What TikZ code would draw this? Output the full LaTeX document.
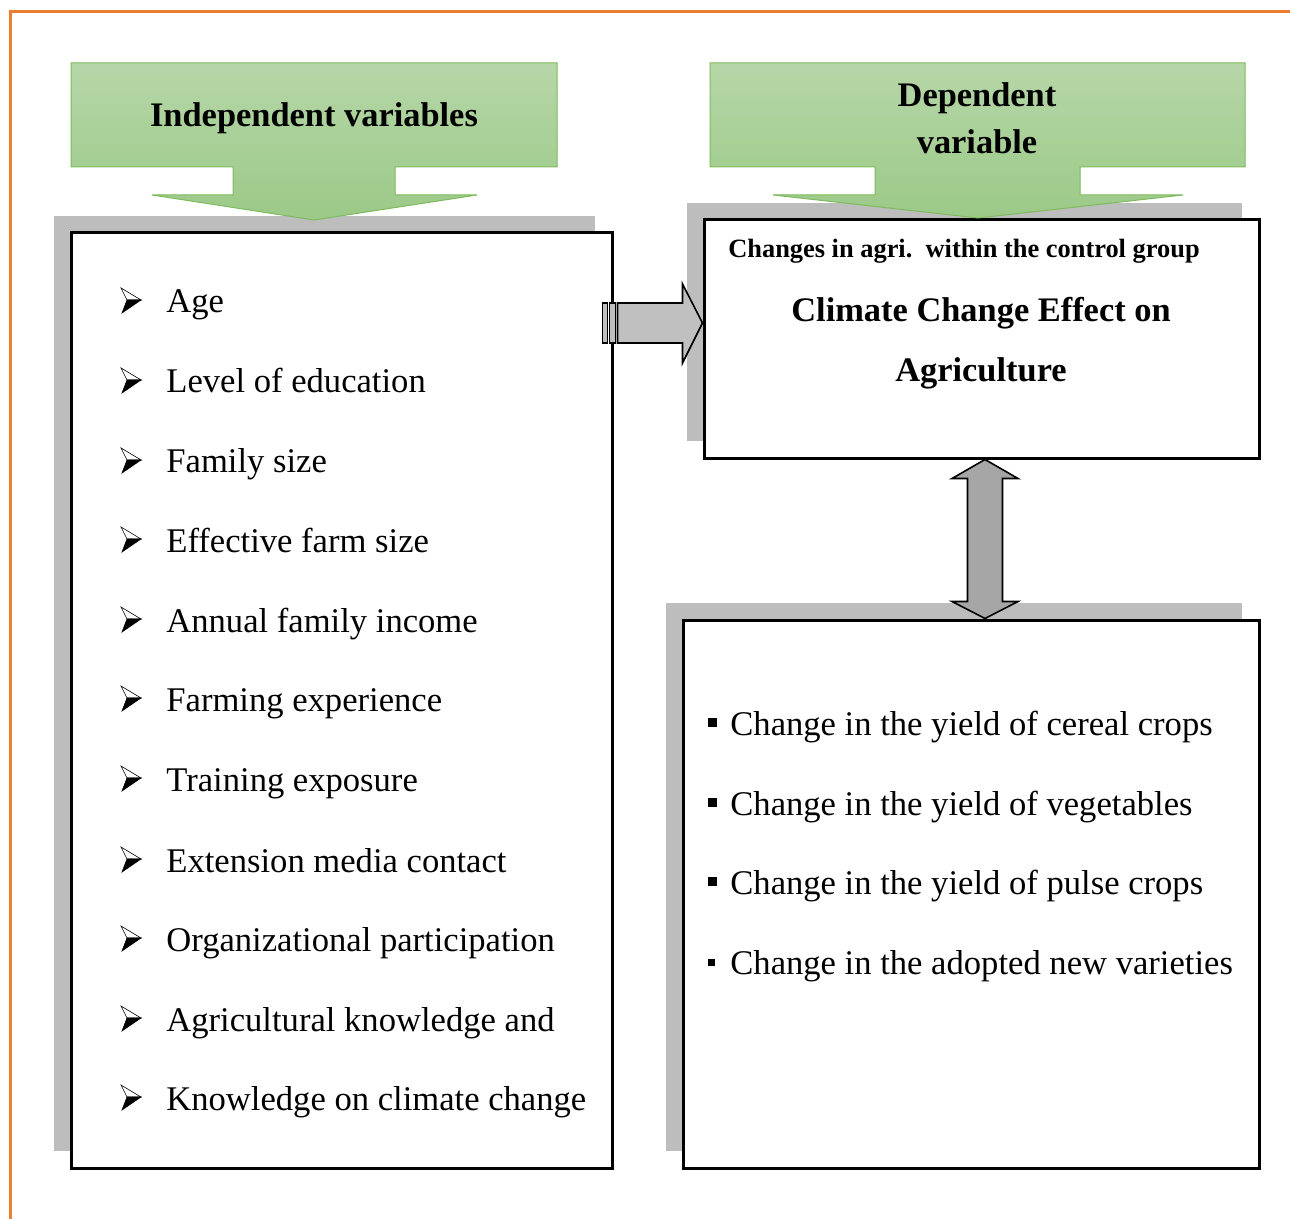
\documentclass[tikz,border=0pt]{standalone}
\usepackage{fontspec}
\setmainfont{Liberation Serif}
\usetikzlibrary{shadows}
\definecolor{frameorange}{HTML}{ED7D31}
\definecolor{callgreen}{HTML}{7DBB5C}
\definecolor{calltop}{HTML}{B6D7A8}
\definecolor{callbottom}{HTML}{9BC987}
\definecolor{arrowgray}{HTML}{C0C0C0}
\definecolor{darkgray}{HTML}{A6A6A6}
\tikzset{
    box/.style = {
        draw,
        shape=rectangle,
        fill=white,
        line width=1.5pt,
        general shadow={shadow xshift=-8.5pt, shadow yshift=8.5pt, fill=gray!52}
    },
    callout/.style = {
        draw=callgreen,
        line width=0.5pt,
        top color=calltop,
        bottom color=callbottom
    },
    blockarrow/.style = {
        draw,
        line width=0.8pt,
        line join=miter
    },
    head/.style = {
        font=\bfseries\fontsize{17.2}{23.5}\selectfont,
        align=center
    },
    item/.style = {
        anchor=base west,
        inner sep=0pt,
        font=\fontsize{17.3}{20}\selectfont
    },
    arrowhead/.pic = {
        \path[draw, line width=0.3pt, fill=white] (0,-25) -- (20,-13) -- (6,-13) -- cycle;
        \path[draw, line width=0.3pt, fill=black] (1,0) -- (20,-13) -- (6,-13) -- cycle;
    },
}
\newcommand{\sqbullet}[1][4.5pt]{\makebox[11pt][l]{\rule[4pt]{#1}{#1}}}

\begin{document}
\begin{tikzpicture}[x=0.5pt, y=-0.5pt]
            \useasboundingbox (0,0) rectangle (1290,1219);
            \path[draw, frameorange, line width=1.5pt] (1290,12) -| (10,1219);

            % the three boxes
            \node[box, minimum width=270.5pt, minimum height=467.5pt] (indbox) at (341.5,700.5) {};
            \node[box, minimum width=277.5pt, minimum height=119pt] (depbox) at (981.5,339) {};
            \node[box, minimum width=288pt, minimum height=274pt] (effbox) at (971,894) {};

            % green headers
            \path[callout] (71,63) -- (557,63) -- (557,167) -- (395,167) -- (395,195) --
            (477,195) -- (314,220) -- (152,195) -- (233,195) -- (233,167) -- (71,167) -- cycle;
            \path[callout] (710,63) -- (1245,63) -- (1245,167) -- (1080,167) -- (1080,195) --
            (1183,195) -- (978,218) -- (773,195) -- (875,195) -- (875,167) -- (710,167) -- cycle;
            \node[head] (indhead) at (314,118) {Independent variables};
            \node[head] (dephead) at (977,118) {Dependent\\variable};

            % dependent box
            \node[font=\bfseries\fontsize{13.2}{15}\selectfont] (group) at (964,251)
            {Changes in agri.\ \ within the control group};
            \node[head, font=\bfseries\fontsize{17.2}{30}\selectfont] (effect) at (981,343)
            {Climate Change Effect on\\Agriculture};

            % independent variables
            \node[item] (age) at (166,313) {Age};
            \node[item] (edu) at (166,393) {Level of education};
            \node[item] (family) at (166,473) {Family size};
            \node[item] (farm) at (166,552) {Effective farm size};
            \node[item] (income) at (166,632) {Annual family income};
            \node[item] (exper) at (166,711) {Farming experience};
            \node[item] (train) at (166,791) {Training exposure};
            \node[item] (media) at (166,872) {Extension media contact};
            \node[item] (org) at (166,951) {Organizational participation};
            \node[item] (agknow) at (166,1031) {Agricultural knowledge and};
            \node[item] (ccknow) at (166,1110) {Knowledge on climate change};
            \foreach \n in {age,edu,family,farm,income,exper,train,media,org,agknow,ccknow}
                \pic at ([xshift=-22.5pt]\n.base west) {arrowhead};

            % effects
            \node[item] (cereal) at (708,735) {\sqbullet Change in the yield of cereal crops};
            \node[item] (veg) at (708,815) {\sqbullet Change in the yield of vegetables};
            \node[item] (pulse) at (708,894) {\sqbullet Change in the yield of pulse crops};
            \node[item] (variety) at (708,974) {\sqbullet[3.5pt]Change in the adopted new varieties};

            % striped arrow into the dependent box
            \coordinate (tip) at (depbox.west |- 0,323);
            \path[blockarrow, fill=arrowgray] (tip) -- ++(-20,-39) -- ++(0,19) -- ++(-65,0) --
            ++(0,40) -- ++(65,0) -- ++(0,20) -- cycle;
            \path[blockarrow, fill=arrowgray] ([shift={(-100,-20)}]tip) rectangle +(5,40);
            \path[blockarrow, fill=arrowgray] ([shift={(-93,-20)}]tip) rectangle +(6,40);

            % two-way arrow between the boxes
            \coordinate (up) at (depbox.south -| 985,0);
            \path[blockarrow, fill=darkgray] (up) -- ++(33,19) -- ++(-15.5,0) -- ++(0,123) --
            ++(15.5,0) -- ++(-33,17) -- ++(-33,-17) -- ++(15.5,0) -- ++(0,-123) --
            ++(-15.5,0) -- cycle;
\end{tikzpicture}
\end{document}
